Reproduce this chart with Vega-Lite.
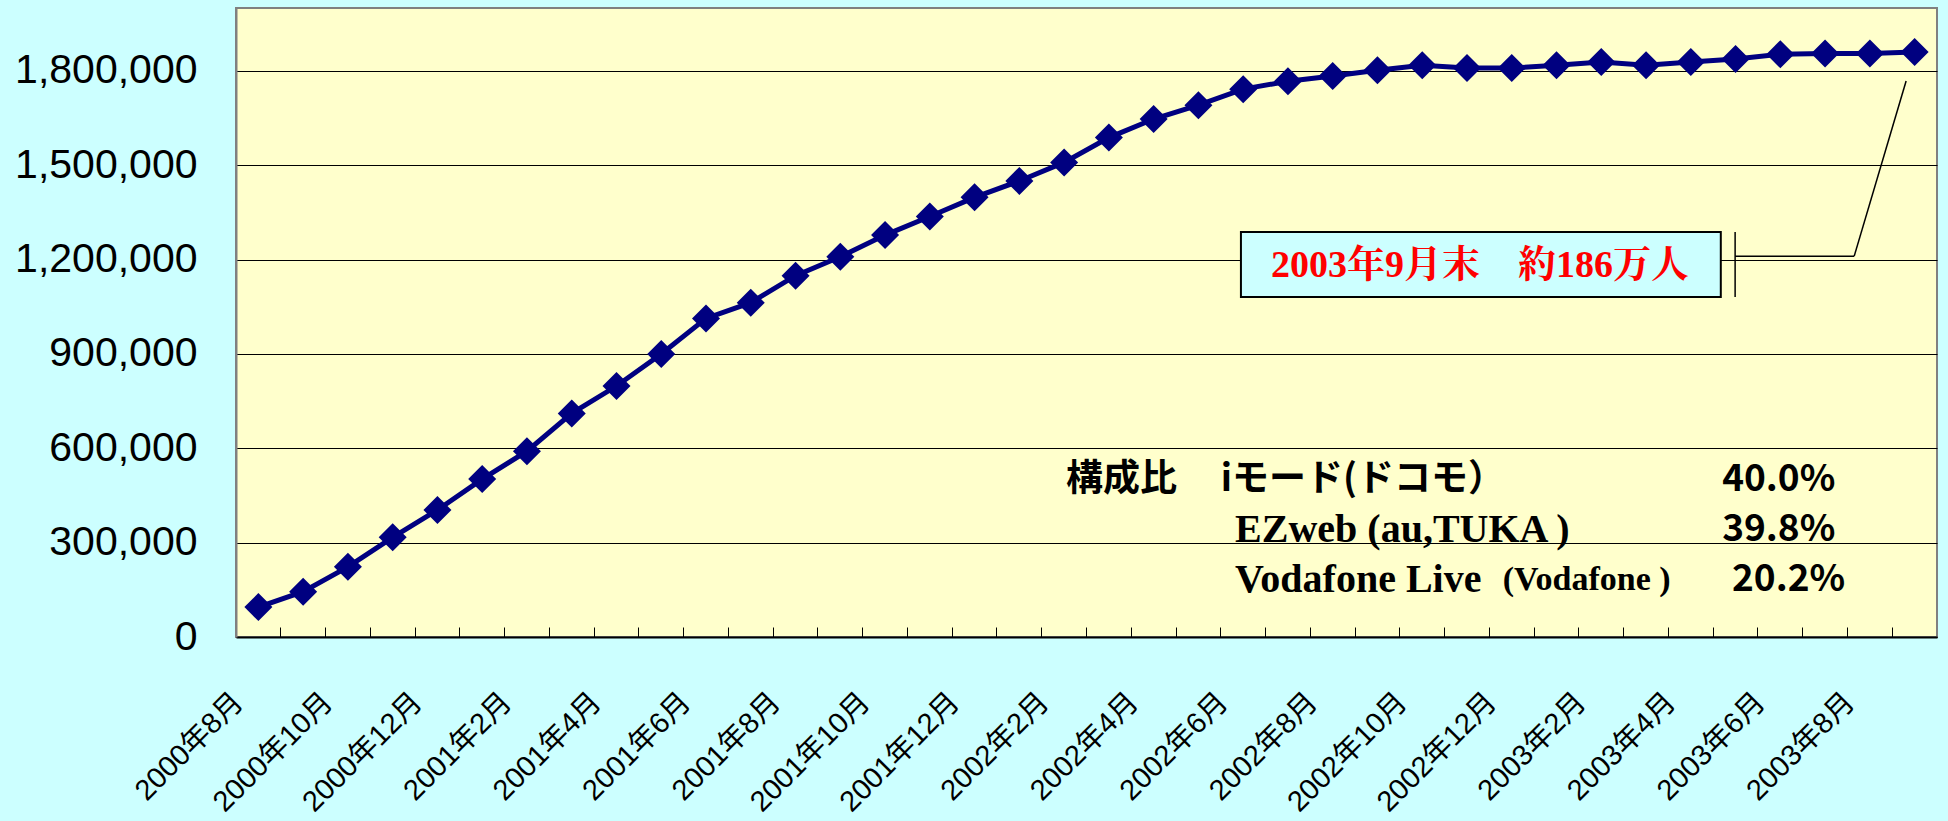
{
  "$schema": "https://vega.github.io/schema/vega-lite/v6.json",
  "autosize": "none",
  "padding": {"left": 236, "top": 8, "right": 11, "bottom": 184},
  "width": 1701,
  "height": 629,
  "background": "#CCFFFF",
  "config": {
    "view": {"fill": "#FFFFCC", "stroke": "#808080", "strokeWidth": 2}
  },
  "datasets": {
    "users": [
      {"month": "2000年8月", "users": 95000},
      {"month": "2000年9月", "users": 144000},
      {"month": "2000年10月", "users": 223000},
      {"month": "2000年11月", "users": 317000},
      {"month": "2000年12月", "users": 404000},
      {"month": "2001年1月", "users": 502000},
      {"month": "2001年2月", "users": 591000},
      {"month": "2001年3月", "users": 711000},
      {"month": "2001年4月", "users": 798000},
      {"month": "2001年5月", "users": 900000},
      {"month": "2001年6月", "users": 1013000},
      {"month": "2001年7月", "users": 1063000},
      {"month": "2001年8月", "users": 1149000},
      {"month": "2001年9月", "users": 1209000},
      {"month": "2001年10月", "users": 1278000},
      {"month": "2001年11月", "users": 1337000},
      {"month": "2001年12月", "users": 1398000},
      {"month": "2002年1月", "users": 1450000},
      {"month": "2002年2月", "users": 1509000},
      {"month": "2002年3月", "users": 1588000},
      {"month": "2002年4月", "users": 1647000},
      {"month": "2002年5月", "users": 1691000},
      {"month": "2002年6月", "users": 1742000},
      {"month": "2002年7月", "users": 1767000},
      {"month": "2002年8月", "users": 1784000},
      {"month": "2002年9月", "users": 1802000},
      {"month": "2002年10月", "users": 1818000},
      {"month": "2002年11月", "users": 1809000},
      {"month": "2002年12月", "users": 1809000},
      {"month": "2003年1月", "users": 1818000},
      {"month": "2003年2月", "users": 1828000},
      {"month": "2003年3月", "users": 1818000},
      {"month": "2003年4月", "users": 1828000},
      {"month": "2003年5月", "users": 1838000},
      {"month": "2003年6月", "users": 1853000},
      {"month": "2003年7月", "users": 1855000},
      {"month": "2003年8月", "users": 1855000},
      {"month": "2003年9月", "users": 1860000}
    ],
    "box": [{"x1": 22.45, "x2": 33.17, "y1": 1288000, "y2": 1081000}],
    "leader": [
      {"x1": 33.49, "x2": 33.49, "y1": 1288000, "y2": 1081000},
      {"x1": 33.49, "x2": 36.15, "y1": 1211000, "y2": 1211000},
      {"x1": 36.15, "x2": 37.31, "y1": 1211000, "y2": 1768000}
    ],
    "callout": [{"x": 27.79, "y": 1180000, "label": "2003年9月末　約186万人"}],
    "gothic": [
      {"x": 18.54, "y": 499000, "label": "構成比"},
      {"x": 22.0, "y": 499000, "label": "iモード(ドコモ）"},
      {"x": 33.2, "y": 499000, "label": "40.0%"},
      {"x": 33.2, "y": 340000, "label": "39.8%"},
      {"x": 33.42, "y": 181000, "label": "20.2%"}
    ],
    "serif": [
      {"x": 22.32, "y": 340000, "label": "EZweb (au,TUKA )"},
      {"x": 22.32, "y": 181000, "label": "Vodafone Live"}
    ],
    "serifSmall": [
      {"x": 28.3, "y": 181000, "label": "(Vodafone )"}
    ]
  },
  "resolve": {"scale": {"x": "independent"}, "axis": {"x": "independent"}},
  "layer": [
    {
      "data": {"name": "users"},
      "mark": {"type": "line", "color": "#000080", "strokeWidth": 5},
      "encoding": {
        "x": {
          "field": "month", "type": "nominal", "sort": null,
          "scale": {"type": "band", "paddingInner": 0, "paddingOuter": 0},
          "axis": {
            "title": null,
            "bandPosition": 0,
            "domainColor": "#000000", "domainWidth": 2,
            "tickColor": "#000000", "tickSize": -10, "tickWidth": 1,
            "labelExpr": "test(/年(2|4|6|8|10|12)月$/, datum.value) ? datum.value : ''",
            "labelAngle": -45, "labelAlign": "right", "labelBaseline": "middle",
            "labelFont": "Liberation Sans, Noto Sans CJK JP",
            "labelFontSize": 29, "labelColor": "#000000",
            "labelPadding": 70, "labelOffset": -20, "labelLimit": 0,
            "labelOverlap": false, "labelFlush": false
          }
        },
        "y": {
          "field": "users", "type": "quantitative",
          "scale": {"domain": [0, 2000000], "nice": false, "zero": true},
          "axis": {
            "title": null,
            "values": [0, 300000, 600000, 900000, 1200000, 1500000, 1800000],
            "format": ",d",
            "grid": true, "gridColor": "#000000", "gridWidth": 1, "gridOpacity": 1,
            "ticks": false, "domainColor": "#808080", "domainWidth": 2,
            "labelFont": "Liberation Sans",
            "labelFontSize": 41, "labelColor": "#000000", "labelPadding": 39,
            "labelLimit": 0
          }
        }
      }
    },
    {
      "data": {"name": "users"},
      "mark": {"type": "point", "shape": "diamond", "filled": true, "size": 784, "color": "#000080", "opacity": 1},
      "encoding": {
        "x": {"field": "month", "type": "nominal", "sort": null,
              "scale": {"type": "band", "paddingInner": 0, "paddingOuter": 0}, "axis": null},
        "y": {"field": "users", "type": "quantitative"}
      }
    },
    {
      "data": {"name": "box"},
      "mark": {"type": "rect", "fill": "#CCFFFF", "stroke": "#000000", "strokeWidth": 2},
      "encoding": {
        "x": {"field": "x1", "type": "quantitative", "scale": {"domain": [0, 38], "nice": false, "zero": false}, "axis": null},
        "x2": {"field": "x2"},
        "y": {"field": "y1", "type": "quantitative"},
        "y2": {"field": "y2"}
      }
    },
    {
      "data": {"name": "leader"},
      "mark": {"type": "rule", "color": "#000000", "strokeWidth": 1.5},
      "encoding": {
        "x": {"field": "x1", "type": "quantitative", "scale": {"domain": [0, 38], "nice": false, "zero": false}, "axis": null},
        "x2": {"field": "x2"},
        "y": {"field": "y1", "type": "quantitative"},
        "y2": {"field": "y2"}
      }
    },
    {
      "data": {"name": "callout"},
      "mark": {"type": "text", "color": "#FF0000", "font": "Liberation Serif, Noto Serif CJK JP, Noto Sans CJK JP", "fontWeight": "bold", "fontSize": 38, "align": "center", "baseline": "middle"},
      "encoding": {
        "x": {"field": "x", "type": "quantitative", "scale": {"domain": [0, 38], "nice": false, "zero": false}, "axis": null},
        "y": {"field": "y", "type": "quantitative"},
        "text": {"field": "label"}
      }
    },
    {
      "data": {"name": "gothic"},
      "mark": {"type": "text", "color": "#000000", "font": "Noto Sans CJK JP", "fontWeight": "bold", "fontSize": 37, "align": "left", "baseline": "middle"},
      "encoding": {
        "x": {"field": "x", "type": "quantitative", "scale": {"domain": [0, 38], "nice": false, "zero": false}, "axis": null},
        "y": {"field": "y", "type": "quantitative"},
        "text": {"field": "label"}
      }
    },
    {
      "data": {"name": "serif"},
      "mark": {"type": "text", "color": "#000000", "font": "Liberation Serif", "fontWeight": "bold", "fontSize": 40, "align": "left", "baseline": "middle"},
      "encoding": {
        "x": {"field": "x", "type": "quantitative", "scale": {"domain": [0, 38], "nice": false, "zero": false}, "axis": null},
        "y": {"field": "y", "type": "quantitative"},
        "text": {"field": "label"}
      }
    },
    {
      "data": {"name": "serifSmall"},
      "mark": {"type": "text", "color": "#000000", "font": "Liberation Serif", "fontWeight": "bold", "fontSize": 34, "align": "left", "baseline": "middle"},
      "encoding": {
        "x": {"field": "x", "type": "quantitative", "scale": {"domain": [0, 38], "nice": false, "zero": false}, "axis": null},
        "y": {"field": "y", "type": "quantitative"},
        "text": {"field": "label"}
      }
    }
  ]
}
